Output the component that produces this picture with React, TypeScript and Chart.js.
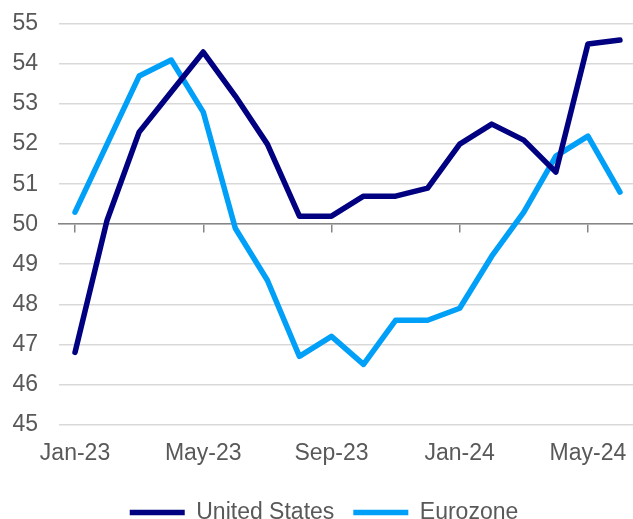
import React, { useEffect, useRef } from "react";
import { Chart, registerables } from "chart.js";

Chart.register(...registerables);

const months = [
  "Jan-23", "Feb-23", "Mar-23", "Apr-23", "May-23", "Jun-23",
  "Jul-23", "Aug-23", "Sep-23", "Oct-23", "Nov-23", "Dec-23",
  "Jan-24", "Feb-24", "Mar-24", "Apr-24", "May-24", "Jun-24",
];
const unitedStates = [46.8, 50.1, 52.3, 53.3, 54.3, 53.2, 52.0, 50.2, 50.2, 50.7, 50.7, 50.9, 52.0, 52.5, 52.1, 51.3, 54.5, 54.6];
const eurozone = [50.3, 52.0, 53.7, 54.1, 52.8, 49.9, 48.6, 46.7, 47.2, 46.5, 47.6, 47.6, 47.9, 49.2, 50.3, 51.7, 52.2, 50.8];
const yMin = 45;
const yMax = 55;
const crossAt = 50;
const labelEvery = 4;

const FONT = "'Liberation Sans', Arial, sans-serif";
const TEXT = "#595959";

const noPad = (s: any) => {
  s.paddingLeft = 0;
  s.paddingRight = 0;
  s.paddingTop = 0;
  s.paddingBottom = 0;
};

export default function App() {
  const ref = useRef<HTMLCanvasElement | null>(null);

  useEffect(() => {
    if (!ref.current) return;
    const chart = new Chart(ref.current, {
      type: "line",
      data: {
        labels: months,
        datasets: [
          {
            label: "United States",
            data: unitedStates,
            borderColor: "#000080",
            backgroundColor: "#000080",
            borderWidth: 5.5,
            borderCapStyle: "round",
            borderJoinStyle: "round",
            pointRadius: 0,
            tension: 0,
          },
          {
            label: "Eurozone",
            data: eurozone,
            borderColor: "#00A0F8",
            backgroundColor: "#00A0F8",
            borderWidth: 5.5,
            borderCapStyle: "round",
            borderJoinStyle: "round",
            pointRadius: 0,
            tension: 0,
          },
        ],
      },
      options: {
        animation: false,
        responsive: true,
        maintainAspectRatio: false,
        layout: { padding: { top: 24, left: 12, right: 0, bottom: -15 } },
        scales: {
          x: {
            type: "category",
            offset: true,
            afterFit: noPad,
            grid: { display: false, drawTicks: false },
            border: { display: false },
            ticks: {
              autoSkip: false,
              maxRotation: 0,
              padding: 15,
              color: TEXT,
              font: { family: FONT, size: 23 },
              callback: (_v: any, i: number) => (i % labelEvery === 0 ? months[i] : ""),
            },
          },
          x2: {
            type: "category",
            position: { y: crossAt } as any,
            offset: true,
            afterFit: noPad,
            grid: {
              drawOnChartArea: false,
              drawTicks: true,
              tickLength: 8,
              lineWidth: 1.5,
              color: (ctx: any) => (ctx.index % labelEvery === 0 ? "#868686" : "rgba(0,0,0,0)"),
            },
            border: { display: true, color: "#868686", width: 1.5 },
            ticks: { display: false, autoSkip: false },
          },
          y: {
            min: yMin,
            max: yMax,
            afterFit: (s: any) => {
              noPad(s);
              s.width = 47;
            },
            ticks: {
              stepSize: 1,
              padding: 21,
              color: TEXT,
              font: { family: FONT, size: 23 },
            },
            grid: { color: "#D9D9D9", lineWidth: 1.5, drawTicks: false },
            border: { display: false },
          },
        },
        plugins: {
          legend: {
            position: "bottom",
            labels: {
              usePointStyle: true,
              pointStyle: "line",
              pointStyleWidth: 55,
              boxHeight: 20,
              padding: 19,
              color: TEXT,
              font: { family: FONT, size: 23 },
            },
          },
          tooltip: { enabled: false },
        },
      },
    });
    return () => chart.destroy();
  }, []);

  return (
    <div style={{ position: "fixed", left: 0, top: 0, width: 636, height: 519 }}>
      <canvas ref={ref} />
    </div>
  );
}
